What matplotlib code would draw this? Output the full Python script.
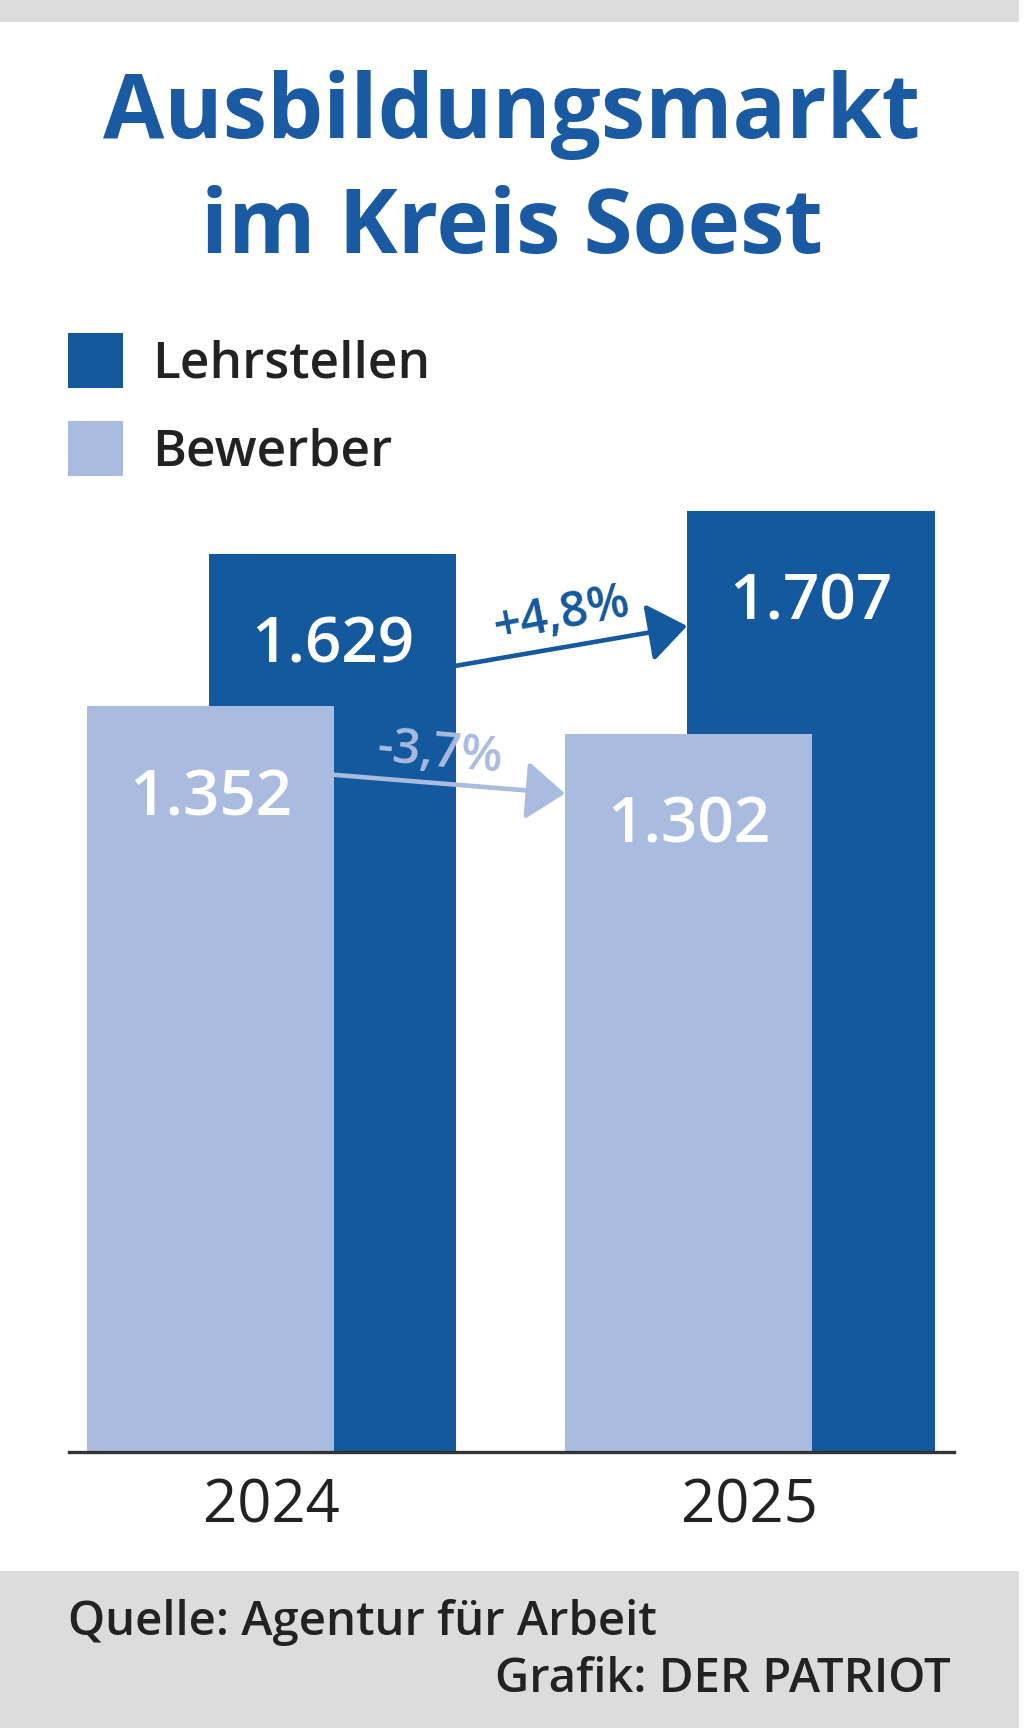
import matplotlib
matplotlib.use("Agg")
import matplotlib.pyplot as plt
import numpy as np
from matplotlib.patches import Rectangle

# ---- data ----
years = ["2024", "2025"]
lehrstellen = [1629, 1707]
bewerber = [1352, 1302]
lehr_labels = ["1.629", "1.707"]
bew_labels = ["1.352", "1.302"]
lehr_change = "+4,8%"
bew_change = "-3,7%"
series_names = ["Lehrstellen", "Bewerber"]
title_lines = ["Ausbildungsmarkt", "im Kreis Soest"]
source_text = "Quelle: Agentur für Arbeit"
credit_text = "Grafik: DER PATRIOT"

DARK = "#14589e"
LIGHT = "#a9bbdf"
TITLE_C = "#1a5aa2"
TEXT_C = "#222222"
GRAY = "#dcdcdc"
FONT = "Open Sans"

W, H = 1024, 1728
fig = plt.figure(figsize=(W / 100, H / 100), dpi=100)
fig.patch.set_facecolor("white")

def fx(px):
    return px / W

def fy(py):
    return 1 - py / H

# background bands
fig.add_artist(Rectangle((0, fy(22)), fx(1019), 22 / H, transform=fig.transFigure,
                         facecolor=GRAY, edgecolor="none", zorder=0))
fig.add_artist(Rectangle((0, 0), fx(1019), fy(1571), transform=fig.transFigure,
                         facecolor=GRAY, edgecolor="none", zorder=0))

# title
fig.text(0.4995, fy(138), title_lines[0], ha="center", va="baseline",
         fontsize=64, fontweight="bold", color=TITLE_C, family=FONT)
fig.text(0.4995, fy(253.5), title_lines[1], ha="center", va="baseline",
         fontsize=64, fontweight="bold", color=TITLE_C, family=FONT)

# legend
for i, (name, col) in enumerate(zip(series_names, [DARK, LIGHT])):
    top = 333 + i * 88
    fig.add_artist(Rectangle((fx(68), fy(top + 55)), fx(55), 55 / H,
                             transform=fig.transFigure, facecolor=col,
                             edgecolor="none"))
    fig.text(fx(152), fy(377 + i * 88), name, ha="left", va="baseline",
             fontsize=37, fontweight="semibold", color=TEXT_C, family=FONT)

# axes
ppu = 0.5512  # px per unit
ymax = 1900
ax_bottom = 1451.7
ax = fig.add_axes([fx(69.4), fy(ax_bottom), fx(953.5 - 69.4), ymax * ppu / H])
ax.set_facecolor("none")
x = np.arange(len(years))
width = 0.5176
off = 0.1277
ax.bar(x + off, lehrstellen, width, color=DARK, zorder=2)
ax.bar(x - off, bewerber, width, color=LIGHT, zorder=3)
ax.set_xlim(-0.423, 1.426)
ax.set_ylim(0, ymax)
for s in ["top", "left", "right"]:
    ax.spines[s].set_visible(False)
ax.spines["bottom"].set_color("#333333")
ax.spines["bottom"].set_linewidth(2.4)
ax.spines["bottom"].set_zorder(5)
ax.set_yticks([])
ax.set_xticks(x)
ax.set_xticklabels(years, fontsize=43, color=TEXT_C, family=FONT)
ax.tick_params(axis="x", length=0, pad=18)

# value labels
for i in range(len(years)):
    ax.text(x[i] + off, lehrstellen[i] - 197, lehr_labels[i], ha="center",
            va="baseline", fontsize=46, fontweight="semibold", color="white",
            family=FONT, zorder=6)
    ax.text(x[i] - off, bewerber[i] - 197, bew_labels[i], ha="center",
            va="baseline", fontsize=46, fontweight="semibold", color="white",
            family=FONT, zorder=6)

# change arrows
def change_arrow(x0, y0, x1, y1, col, label, rot):
    ax.annotate("", xy=(x1, y1), xytext=(x0, y0),
                arrowprops=dict(arrowstyle="-|>,head_length=0.6,head_width=0.45",
                                mutation_scale=40, lw=3.3, color=col,
                                shrinkA=0, shrinkB=0),
                zorder=7)
    ax.text((x0 + x1) / 2 - 0.02, (y0 + y1) / 2 + 54, label, ha="center",
            va="center", rotation=rot, rotation_mode="anchor", fontsize=35,
            fontweight="semibold", color=col, family=FONT, zorder=7)

change_arrow(x[0] + off + width / 2, lehrstellen[0] - 203,
             x[1] + off - width / 2, lehrstellen[1] - 209, DARK, lehr_change, 11)
change_arrow(x[0] - off + width / 2, bewerber[0] - 124,
             x[1] - off - width / 2, bewerber[1] - 108, LIGHT, bew_change, -5)

# footer
fig.text(fx(68), fy(1635), source_text, ha="left", va="baseline", fontsize=34,
         fontweight="semibold", color=TEXT_C, family=FONT)
fig.text(fx(951), fy(1692), credit_text, ha="right", va="baseline", fontsize=34,
         fontweight="semibold", color=TEXT_C, family=FONT)

fig.savefig("out.png", dpi=100)
